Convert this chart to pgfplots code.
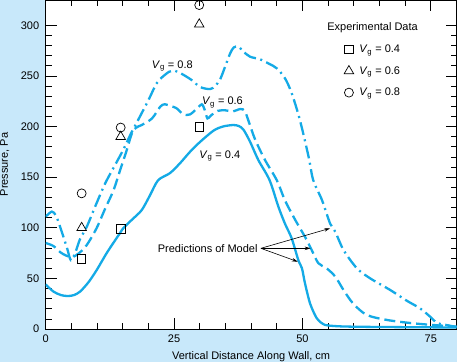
\documentclass[border=0pt]{standalone}
\usepackage{fontspec}
\setmainfont{Liberation Sans}
\usepackage{pgfplots}
\pgfplotsset{compat=1.18}
\usetikzlibrary{calc,backgrounds,arrows.meta}
\definecolor{bgblue}{RGB}{200,232,250}
\definecolor{curve}{RGB}{20,170,230}
\begin{document}
\fontsize{11}{13}\selectfont
\begin{tikzpicture}
\begin{axis}[name=ax, scale only axis, width=410.8pt, height=329pt,
  xmin=0, xmax=80, ymin=0, ymax=325,
  xtick={0,25,50,75}, ytick={0,50,...,300},
  minor x tick num=4, minor y tick num=4,
  tick align=inside, major tick length=11pt, minor tick length=6pt,
  tick style={black, line width=0.7pt},
  axis line style={black, line width=0.9pt},
  axis background/.style={fill=white},
  /pgf/number format/assume math mode=true,
  ticklabel style={font=\fontsize{11}{13}\selectfont},
  yticklabel style={xshift=-2.7pt},
  xticklabel style={yshift=-2.3pt},
  xlabel={Vertical Distance Along Wall, cm},
  ylabel={Pressure, Pa},
  xlabel style={at={(axis description cs:0.5,-0.0927)}, anchor=base},
  ylabel style={at={(axis description cs:-0.0918,0.5)}, anchor=base},
  legend style={draw=none, fill=none, at={(axis cs:57.5,285)}, anchor=north west,
    font=\fontsize{11}{13}\selectfont, row sep=8.3pt},
  legend cell align=left,
  legend image code/.code={\draw[#1] plot coordinates {(0.15cm,0cm)};
    \path (0.15cm,0cm) ++(8pt,0pt);},
]
% Vg = 0.4 (solid)
\addplot[curve, line width=2.3pt, smooth, line join=round, forget plot] coordinates {
(0,44) (1.5,37) (3,33.5) (4.3,32.6) (5.5,33.5) (6.7,37) (8.3,46) (9.9,58) (12,76)
(14.5,95) (15.1,99.5) (16.8,108) (18.7,117.5) (20.3,132) (21.9,147) (24.2,154)
(26.2,164) (28.1,175) (30.1,185) (32.7,196) (34.5,200) (36.5,201.5) (37.6,200.5)
(38.5,197) (39.8,185) (41.4,167) (43.6,147) (45.3,121) (46.6,104) (47.9,89.6)
(49.2,68) (49.9,60) (50.5,45) (51.5,25) (52.8,10.5) (54,5) (55,3.5) (58,2.5)
(65,2) (80,1.5)};
% Vg = 0.6 (dashed)
\addplot[curve, line width=2.3pt, smooth, dash pattern=on 11pt off 5pt, forget plot] coordinates {
(0,85) (1.5,82) (2.8,76) (4,72.5) (5.2,71) (6.5,75) (8,83) (9.9,99.5) (11.5,118)
(13.2,137) (14.5,157) (15.8,177) (16.5,189) (17.1,196.6) (18,200) (18.7,201.5)
(20.7,208) (22.3,219.6) (23.2,222) (24.5,220) (25.5,218) (26.8,212) (28.1,212)
(29.5,218) (30.4,222) (31,216) (31.5,208) (32.2,211) (33.5,215.5) (35,216)
(36.5,215) (37.9,217.3) (38.8,215) (39.8,201) (40.8,187) (42.7,167) (45,147)
(46.6,127) (48.6,107.7) (50.5,91) (51.8,78) (53.1,65) (54.7,60) (56.4,51.7)
(58,38.5) (59.9,25) (62.5,14) (66.4,9) (71.6,5.6) (78,3) (80,2.5)};
% Vg = 0.8 (dash-dot)
\addplot[curve, line width=2.3pt, smooth, dash pattern=on 13pt off 4.5pt on 2pt off 4.5pt, forget plot] coordinates {
(0,111) (1.2,116) (2,112) (2.8,101) (4.1,81) (4.9,68) (5.8,76) (6.7,89) (8,101)
(9.8,123) (11.6,144) (13.4,161) (15.1,177) (16.5,192) (18,206.5) (20,226)
(21.5,242) (22.3,247) (24,254) (25.2,255) (26.5,252) (27.5,249) (28.4,246)
(30.1,239) (32,237) (33,240) (34,247) (35,260) (35.9,272) (36.6,278) (37.5,279)
(38.5,274) (39.8,269) (41.7,266.5) (43.5,262) (45,257.5) (46.6,247.6) (47.9,233)
(49.5,206.5) (51.2,170) (52.1,147) (53.8,127.4) (55.4,104) (56.4,96) (58,78)
(60.6,60) (63.2,50) (67.1,38.5) (70.3,28) (72.9,20.4) (74.9,12) (76.2,6)
(77.5,4.5) (80,2)};
% experimental data
\addplot[only marks, mark=square, mark size=4.2pt, black, line width=0.7pt]
  coordinates {(7,69.5) (14.6,99) (29.9,199.5)};
\addlegendentry{\textit{V}\textsubscript{g} = 0.4}
\addplot[only marks, mark=triangle, mark size=5.5pt, black, line width=0.7pt]
  coordinates {(7,100) (14.6,190) (29.9,301)};
\addlegendentry{\textit{V}\textsubscript{g} = 0.6}
\addplot[only marks, mark=o, mark size=4.5pt, black, line width=0.7pt]
  coordinates {(7,134) (14.6,199) (29.9,320)};
\addlegendentry{\textit{V}\textsubscript{g} = 0.8}
% labels
\node[anchor=base west, inner sep=0pt] at (axis cs:54.8,294.4) {Experimental Data};
\node[anchor=base west, inner sep=0pt] at (axis cs:20.65,257.5) {\textit{V}\textsubscript{g} = 0.8};
\node[anchor=base west, inner sep=0pt] at (axis cs:30.4,221.3) {\textit{V}\textsubscript{g} = 0.6};
\node[anchor=base west, inner sep=0pt] at (axis cs:29.9,168.6) {\textit{V}\textsubscript{g} = 0.4};
\node[anchor=base west, inner sep=0pt] at (axis cs:21.8,75.4) {Predictions of Model};
\draw[-{Stealth[length=6pt,width=3.5pt]}, line width=0.6pt] (axis cs:41.9,79.7) -- (axis cs:55.4,99.5);
\draw[-{Stealth[length=6pt,width=3.5pt]}, line width=0.6pt] (axis cs:41.9,79.7) -- (axis cs:51.6,79.7);
\draw[-{Stealth[length=6pt,width=3.5pt]}, line width=0.6pt] (axis cs:41.9,79.7) -- (axis cs:49.1,66.5);
\end{axis}
\begin{scope}[on background layer]
\fill[bgblue] ($(ax.south west)+(-45.7pt,-33pt)$) rectangle ($(ax.north east)+(0.5pt,0pt)$);
\end{scope}
\pgfresetboundingbox
\path[use as bounding box] ($(ax.south west)+(-45.7pt,-33pt)$) rectangle ($(ax.north east)+(0.5pt,0pt)$);
\end{tikzpicture}
\end{document}
